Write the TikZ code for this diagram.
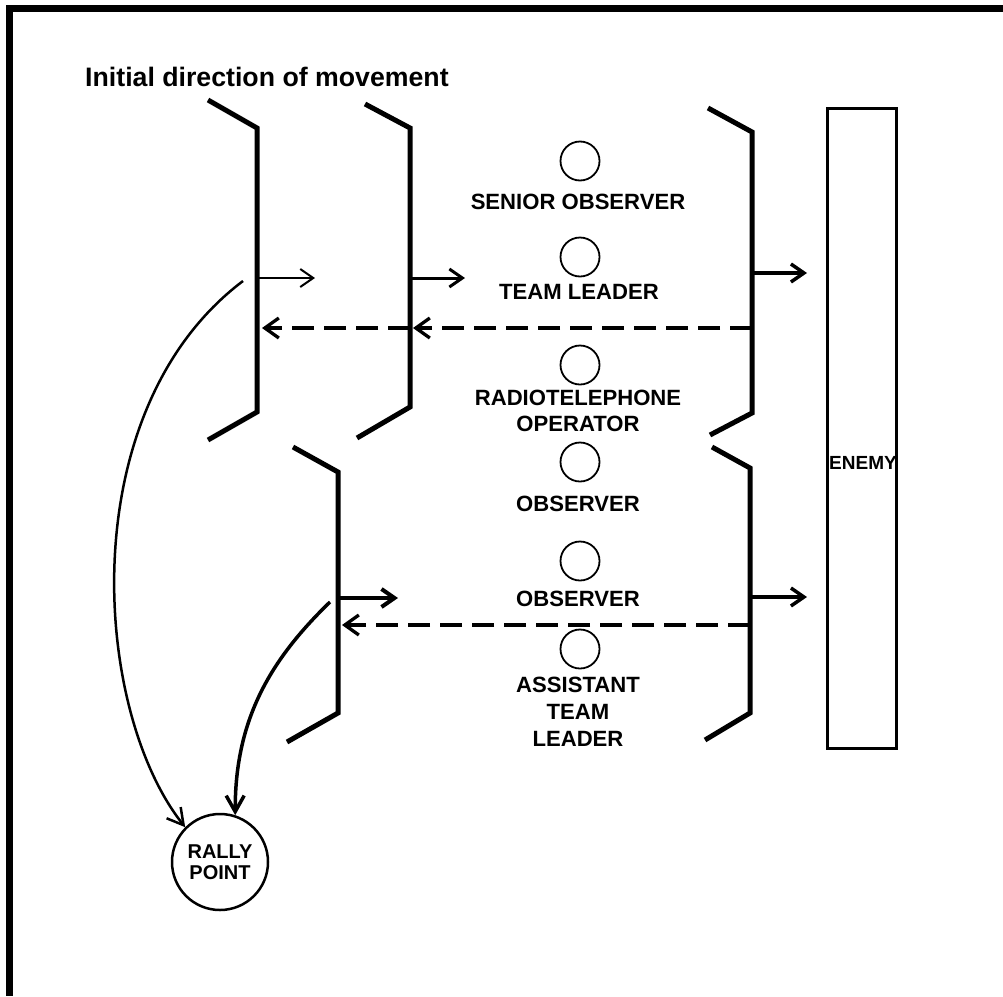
\documentclass[tikz,border=0pt]{standalone}
\usepackage{fontspec}
\setmainfont{Liberation Sans}
\usetikzlibrary{arrows.meta}
\tikzset{
  brk/.style={line width=5pt, line join=miter},
  lbl/.style={font=\bfseries\fontsize{22.1}{27}\selectfont, align=center, inner sep=0pt},
  man/.style={circle, draw, line width=1.8pt, minimum size=39pt, inner sep=0pt},
  adv/.style={line width=#1, -{Straight Barb[length=13pt,width=18pt]}},
  dsh/.style={line width=3.3pt, dash pattern=on 22pt off 10pt, -{Straight Barb[length=14pt,width=20pt]}},
  fall/.style={line width=#1, -{Straight Barb[length=16pt,width=18pt]}},
}
\begin{document}
\begin{tikzpicture}[x=1pt,y=-1pt]
\useasboundingbox (0,0) rectangle (1003,996);
% frame
\draw[line width=7pt, line join=miter] (1003,8.5) -- (9.5,8.5) -- (9.5,996);
% title
\node[anchor=base west, inner sep=0pt, font=\bfseries\fontsize{26.7}{32}\selectfont] (title) at (85,86) {Initial direction of movement};
% brackets
\draw[brk] (208,100) -- (257,128) -- (257,412) -- (208,440);
\draw[brk] (365,104) -- (410,128) -- (410,407) -- (357,438);
\draw[brk] (708,108) -- (752,132) -- (752,413) -- (710,435);
\draw[brk] (293,447) -- (338,472) -- (338,713) -- (287,742);
\draw[brk] (712,447) -- (750,468) -- (750,713) -- (705,740);
% anchor coordinates
\coordinate (b1a) at (257,278); \coordinate (b1t) at (315,278);
\coordinate (b2a) at (410,278); \coordinate (b2t) at (465,278);
\coordinate (b3a) at (752,273); \coordinate (b3t) at (807,273);
\coordinate (b4a) at (338,598); \coordinate (b4t) at (398,598);
\coordinate (b5a) at (750,597); \coordinate (b5t) at (807,597);
\coordinate (d1s) at (752,328); \coordinate (d1m) at (413,328);
\coordinate (d1n) at (410,328); \coordinate (d1e) at (262,328);
\coordinate (d2s) at (750,625); \coordinate (d2e) at (342,625);
\coordinate (c1s) at (243,281); \coordinate (c2s) at (330,602);
% advance arrows
\draw[adv=2pt] (b1a) -- (b1t);
\draw[adv=3pt] (b2a) -- (b2t);
\draw[adv=3.5pt] (b3a) -- (b3t);
\draw[adv=4pt] (b4a) -- (b4t);
\draw[adv=3.5pt] (b5a) -- (b5t);
% withdrawal dashed
\draw[dsh] (d1s) -- (d1m);
\draw[dsh] (d1n) -- (d1e);
\draw[dsh] (d2s) -- (d2e);
% team members
\node[man] (m1) at (580,161) {};
\node[lbl] (l1) at (578,202) {SENIOR OBSERVER};
\node[man] (m2) at (580,257) {};
\node[lbl] (l2) at (579,292) {TEAM LEADER};
\node[man] (m3) at (580,365) {};
\node[lbl, font=\bfseries\fontsize{22.1}{26}\selectfont] (l3) at (578,411) {RADIOTELEPHONE\\OPERATOR};
\node[man] (m4) at (580,462) {};
\node[lbl] (l4) at (578,504) {OBSERVER};
\node[man] (m5) at (580,561) {};
\node[lbl] (l5) at (578,599) {OBSERVER};
\node[man] (m6) at (580,649) {};
\node[lbl] (l6) at (578,712) {ASSISTANT\\TEAM\\LEADER};
% enemy
\node[draw, line width=3pt, minimum width=69pt, minimum height=640pt, inner sep=0pt] (enemy) at (862,428) {};
\node[lbl, font=\bfseries\fontsize{19}{22}\selectfont] (enemyl) at (863,463) {ENEMY};
% rally point
\node[circle, draw, line width=2.5pt, minimum size=96pt, inner sep=0pt, align=center, font=\bfseries\fontsize{20}{21.5}\selectfont] (rally) at (220,862) {RALLY\\POINT};
% fall back curves
\draw[fall=2.5pt] (c1s) .. controls (72,410) and (92,710) .. (rally.135);
\draw[fall=3.5pt] (c2s) .. controls (270,660) and (235,720) .. (rally.72);
\end{tikzpicture}
\end{document}
